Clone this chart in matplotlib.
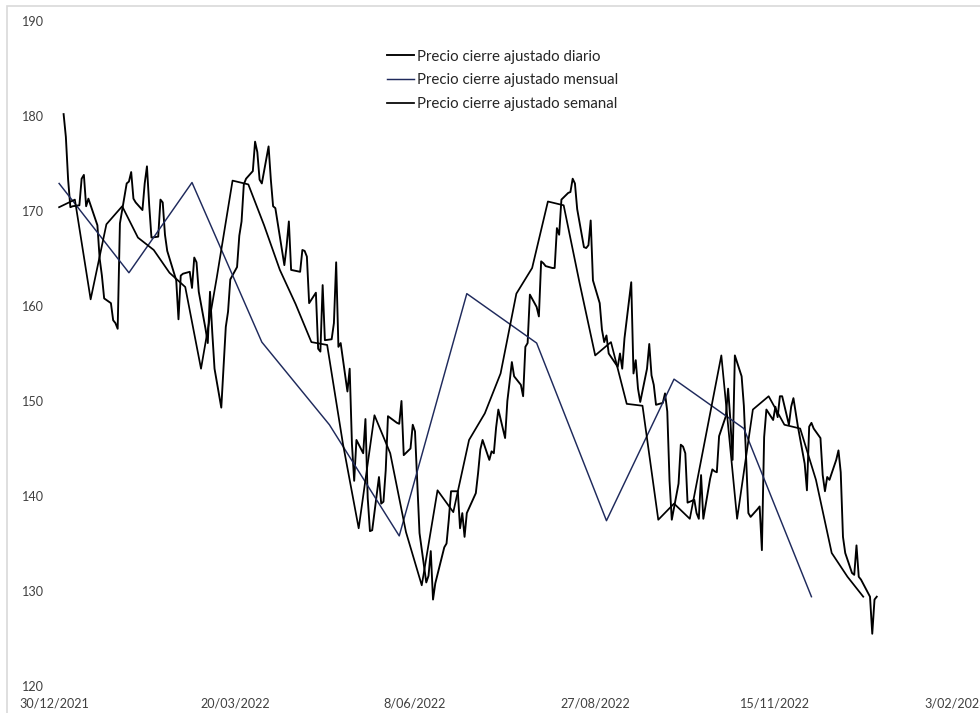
import matplotlib
matplotlib.use("Agg")
import matplotlib.pyplot as plt
from matplotlib.patches import Rectangle
import pandas as pd

# ---- data -------------------------------------------------------------
holidays = ["2022-01-17", "2022-02-21", "2022-04-15", "2022-05-30", "2022-06-20",
            "2022-07-04", "2022-09-05", "2022-11-24", "2022-12-26"]

daily_jan = [180.2, 177.8, 173.3, 170.4, 170.5, 170.6, 173.4, 173.8, 170.5, 171.3,
             168.5, 165.0, 163.2, 160.8, 160.3, 158.5, 158.2, 157.6, 168.7, 172.9]
daily_feb = [173.1, 174.1, 171.3, 170.9, 170.1, 172.9, 174.7, 170.6, 167.2, 167.3,
             171.2, 170.9, 167.5, 165.8, 162.7, 158.6, 163.2, 163.4, 163.6]
daily_mar = [161.9, 165.1, 164.6, 161.5, 157.6, 156.1, 161.5, 157.2, 153.4, 149.3,
             153.6, 157.8, 159.4, 162.8, 164.1, 167.4, 168.9, 172.8, 173.4, 174.2,
             177.3, 176.2, 173.3]
daily_apr = [172.9, 176.8, 173.3, 170.5, 170.3, 168.8, 164.3, 166.3, 168.9, 163.8,
             163.6, 165.9, 165.8, 165.2, 160.3, 161.4, 155.5, 155.2, 162.2, 156.4]
daily_may = [156.5, 158.2, 164.6, 155.7, 156.1, 151.0, 153.4, 145.5, 141.6, 145.9,
             144.5, 148.1, 139.8, 136.3, 136.4, 142.0, 139.2, 139.4, 142.7, 148.4,
             147.7]
daily_jun = [147.6, 150.0, 144.3, 145.0, 147.5, 146.8, 141.5, 136.1, 130.9, 131.6,
             134.2, 129.1, 130.8, 134.6, 135.0, 137.5, 140.5, 140.5, 136.6, 138.2,
             135.7]
daily_jul = [138.2, 140.3, 142.4, 144.9, 145.9, 143.8, 144.7, 144.5, 147.2, 149.1,
             146.1, 150.0, 152.0, 154.1, 152.6, 151.7, 150.5, 155.7, 156.1, 161.2]
daily_aug = [159.9, 158.9, 164.7, 164.5, 164.2, 164.0, 164.0, 168.2, 167.5, 171.2,
             171.9, 172.0, 173.4, 172.9, 170.2, 166.2, 166.1, 166.4, 169.0, 162.7,
             160.3, 157.5, 156.2]
daily_sep = [156.9, 155.0, 153.6, 155.0, 153.4, 156.6, 162.5, 152.9, 154.3, 151.3,
             149.9, 153.4, 156.0, 152.7, 151.7, 149.6, 149.8, 150.8, 148.9, 141.6,
             137.5]
daily_oct = [141.3, 145.4, 145.2, 144.5, 139.3, 139.6, 138.2, 137.6, 142.2, 137.6,
             141.8, 142.8, 142.6, 142.5, 146.3, 148.4, 151.3, 148.0, 143.8, 154.8,
             152.6]
daily_nov = [149.5, 144.0, 138.2, 137.8, 138.6, 138.9, 134.3, 146.2, 149.1, 148.0,
             149.4, 148.3, 150.5, 150.5, 147.5, 149.4, 150.3, 147.3, 143.4, 140.6,
             147.3]
daily_dec = [147.7, 147.1, 146.1, 142.2, 140.5, 142.0, 141.7, 143.8, 144.8, 142.5,
             135.7, 134.0, 131.9, 131.7, 134.8, 131.5, 131.2, 129.4, 125.5, 129.1,
             129.4]

weekly_values = [170.4, 171.2, 160.7, 168.6, 170.5, 167.2, 165.9, 163.5, 162.0, 153.4,
                 163.0, 173.2, 172.8, 168.5, 163.8, 160.2, 156.2, 155.9, 145.5, 136.6,
                 148.5, 144.5, 136.2, 130.6, 140.6, 138.3, 145.9, 148.7, 152.9, 161.3,
                 164.0, 171.0, 170.6, 162.5, 154.8, 156.2, 149.7, 149.5, 137.5, 139.2,
                 137.6, 146.2, 154.8, 137.6, 149.1, 150.5, 147.5, 147.1, 141.7, 134.0,
                 131.5, 129.4]

monthly_values = [172.9, 163.5, 173.0, 156.2, 147.5, 135.8,
                  161.3, 156.1, 137.4, 152.3, 147.1, 129.4]

series_labels = ["Precio cierre ajustado diario",
                 "Precio cierre ajustado mensual",
                 "Precio cierre ajustado semanal"]

x_ticks = ["2021-12-30", "2022-03-20", "2022-06-08", "2022-08-27", "2022-11-15", "2023-02-03"]
x_tick_labels = ["30/12/2021", "20/03/2022", "8/06/2022", "27/08/2022", "15/11/2022", "3/02/2023"]
y_ticks = [120, 130, 140, 150, 160, 170, 180, 190]

# ---- dates for each series ---------------------------------------------
daily_values = (daily_jan + daily_feb + daily_mar + daily_apr + daily_may + daily_jun +
                daily_jul + daily_aug + daily_sep + daily_oct + daily_nov + daily_dec)
trading_days = pd.bdate_range("2022-01-03", "2022-12-30", freq="C", holidays=holidays)
weekly_dates = pd.date_range("2022-01-01", periods=len(weekly_values), freq="7D")
monthly_dates = pd.date_range("2022-01-01", periods=len(monthly_values), freq="MS")

# ---- figure -----------------------------------------------------------
W, H = 980, 713
fig = plt.figure(figsize=(W / 100, H / 100), dpi=100)
fig.patch.set_facecolor("white")

ax = fig.add_axes([54.6 / W, 27 / H, 901 / W, 665 / H])
ax.set_facecolor("white")

black = "#000000"
navy = "#1f2a5c"
ax.plot(trading_days, daily_values, color=black, lw=1.35, label=series_labels[0])
ax.plot(monthly_dates, monthly_values, color=navy, lw=1.05, label=series_labels[1])
ax.plot(weekly_dates, weekly_values, color=black, lw=1.25, label=series_labels[2])

ax.set_ylim(120, 190)
ax.set_yticks(y_ticks)
ax.set_xlim(pd.Timestamp(x_ticks[0]), pd.Timestamp(x_ticks[-1]))
ax.set_xticks([pd.Timestamp(t) for t in x_ticks])
ax.set_xticklabels(x_tick_labels)

for s in ax.spines.values():
    s.set_visible(False)

font_family = ["Lato", "DejaVu Sans"]
ax.tick_params(axis="both", length=0)
ax.tick_params(axis="y", pad=8.0)
ax.tick_params(axis="x", pad=8.3)
for lbl in ax.get_xticklabels() + ax.get_yticklabels():
    lbl.set_fontfamily(font_family)
    lbl.set_fontsize(9.1)
    lbl.set_color("#404040")

leg = ax.legend(loc="upper left", bbox_to_anchor=(386.5 / W, 1 - 49.5 / H),
                bbox_transform=fig.transFigure, frameon=False,
                prop=dict(family=font_family, size=10.8),
                handlelength=1.8, handletextpad=0.26, labelspacing=0.66,
                borderpad=0, borderaxespad=0)
for t in leg.get_texts():
    t.set_color("#262626")

# light chart-area border
fig.add_artist(Rectangle((7 / W, -0.5), 2.0, 0.5 + 1 - 6 / H, transform=fig.transFigure,
                         fill=False, edgecolor="#d9d9d9", lw=1.2))

fig.savefig("out.png", dpi=100)
